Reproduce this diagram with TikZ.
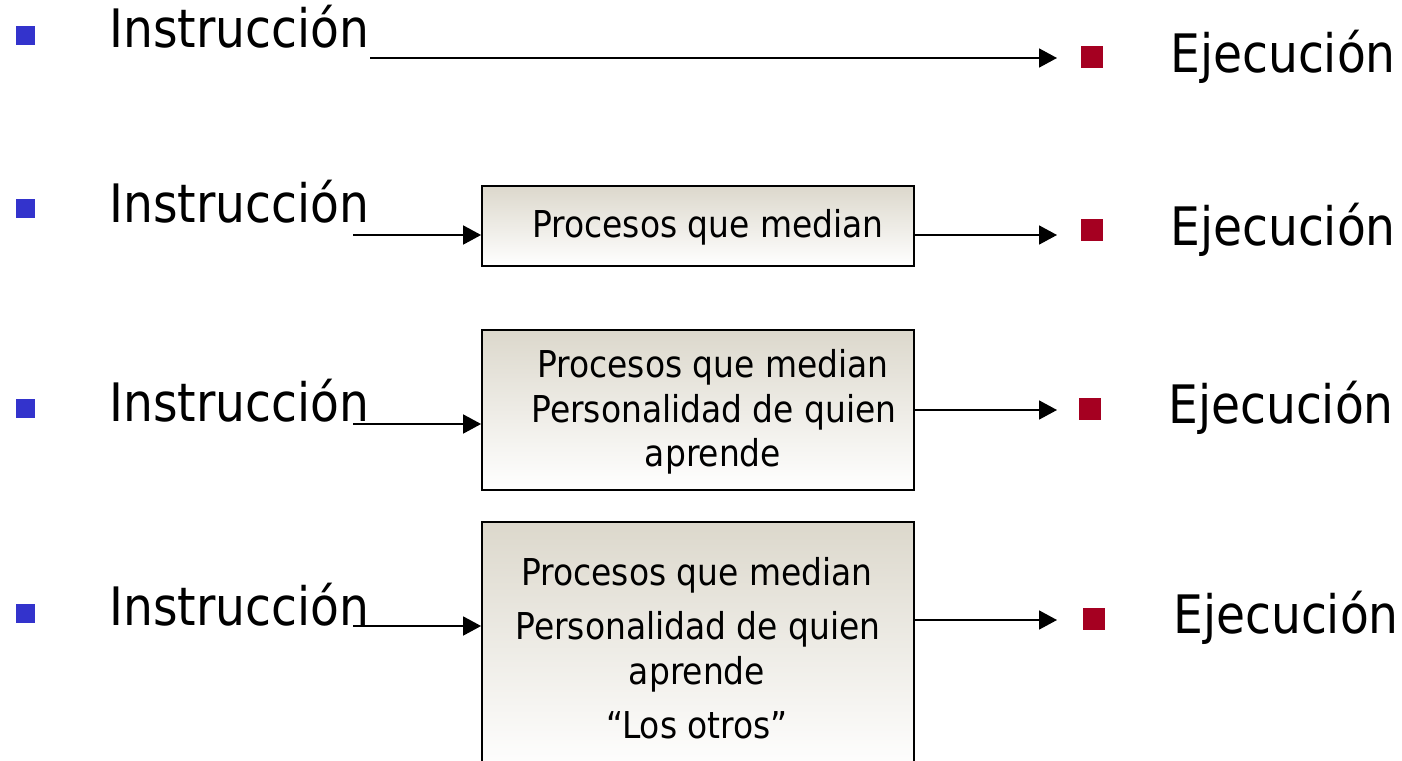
\documentclass[tikz,border=0pt]{standalone}
\usepackage{fontspec}
\setmainfont[FakeStretch=0.89]{DejaVu Sans}
\usetikzlibrary{arrows.meta}
\definecolor{bulblue}{RGB}{51,51,204}
\definecolor{bulred}{RGB}{165,0,33}
\definecolor{boxtop}{RGB}{220,216,204}
\tikzset{
  big/.style={font=\fontsize{53}{60}\selectfont, inner sep=0pt, anchor=base west},
  small/.style={font=\fontsize{37}{42}\selectfont, inner sep=0pt, anchor=base},
  bblue/.style={fill=bulblue, minimum size=19pt, inner sep=0pt, draw=none},
  bred/.style={fill=bulred, minimum size=22pt, inner sep=0pt, draw=none},
  procbox/.style={draw=black, line width=1.8pt, minimum width=432pt, top color=boxtop, bottom color=white, inner sep=0pt},
  arr/.style={line width=1.7pt, -{Triangle[length=18pt,width=19pt]}}
}
\begin{document}
\begin{tikzpicture}[x=1pt,y=-1pt]
\useasboundingbox (0,0) rectangle (1402,760);
% row 1
\node[bblue] (b1) at (25,36) {};
\node[big] (i1) at (109,48) {Instrucción};
\node[bred] (r1) at (1092,57) {};
\node[big] (e1) at (1170,72) {Ejecución};
\coordinate (s1) at (370,58);
\draw[arr, shorten >=35pt] (s1) -- (s1 -| r1.center);
% row 2
\node[bblue] (b2) at (25,208) {};
\node[big] (i2) at (109,222) {Instrucción};
\node[procbox, minimum height=80pt] (p2) at (698,226) {};
\node[small] (p2a) at (708,237) {Procesos que median};
\node[bred] (r2) at (1092,230) {};
\node[big] (e2) at (1170,245) {Ejecución};
\coordinate (s2) at (353,235);
\draw[arr] (s2) -- (s2 -| p2.west);
\coordinate (o2) at (914,235);
\draw[arr] (o2) -- ++(143,0);
% row 3
\node[bblue] (b3) at (25,408) {};
\node[big] (i3) at (109,421) {Instrucción};
\node[procbox, minimum height=160pt] (p3) at (698,410) {};
\node[small] (p3a) at (713,377) {Procesos que median};
\node[small] (p3b) at (714,422) {Personalidad de quien};
\node[small] (p3c) at (713,466) {aprende};
\node[bred] (r3) at (1090,409) {};
\node[big] (e3) at (1168,423) {Ejecución};
\coordinate (s3) at (353,424);
\draw[arr] (s3) -- (s3 -| p3.west);
\coordinate (o3) at (914,410);
\draw[arr] (o3) -- ++(143,0);
% row 4
\node[bblue] (b4) at (25,613) {};
\node[big] (i4) at (109,625) {Instrucción};
\node[procbox, minimum height=250pt] (p4) at (698,647) {};
\node[small] (p4a) at (697,585) {Procesos que median};
\node[small] (p4b) at (698,639) {Personalidad de quien};
\node[small] (p4c) at (697,684) {aprende};
\node[small] (p4d) at (697,738) {“Los otros”};
\node[bred] (r4) at (1094,619) {};
\node[big] (e4) at (1173,633) {Ejecución};
\coordinate (s4) at (353,626);
\draw[arr] (s4) -- (s4 -| p4.west);
\coordinate (o4) at (914,620);
\draw[arr] (o4) -- ++(143,0);
\end{tikzpicture}
\end{document}
